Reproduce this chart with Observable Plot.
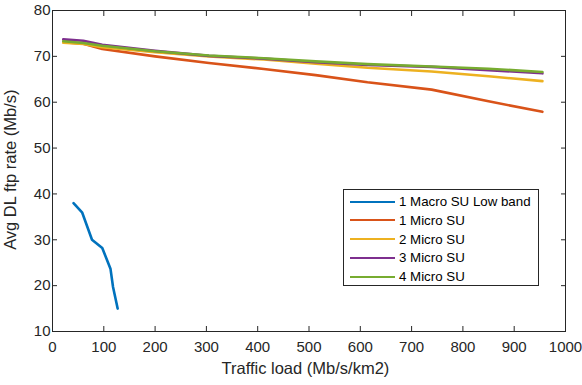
<!DOCTYPE html>
<html>
<head>
<meta charset="utf-8">
<script src="https://cdn.jsdelivr.net/npm/d3@7"></script>
<script src="https://cdn.jsdelivr.net/npm/@observablehq/plot@0.6"></script>
<style>
  body { margin: 0; background: #fff; }
  #wrap { position: relative; width: 582px; height: 385px; font-family: "Liberation Sans", Arial, sans-serif; }
  #legend { position: absolute; left: 343px; top: 189px; width: 196px; height: 97px; border: 1px solid #262626; background: #fff; box-sizing: border-box; font-size: 13.3px; color: #000; }
  .row { position: absolute; left: 0; height: 19px; display: flex; align-items: center; }
  .row svg { margin-left: 6px; margin-right: 4px; }
</style>
</head>
<body>
<div id="wrap"></div>
<script>
const seriesNames = ["1 Macro SU Low band", "1 Micro SU", "2 Micro SU", "3 Micro SU", "4 Micro SU"];
const seriesColors = ["#0072BD", "#D95319", "#EDB120", "#7E2F8E", "#77AC30"];

const macroX = [41, 58, 77, 97, 113, 118, 127];
const macroY = [38.0, 35.9, 30.0, 28.2, 23.7, 19.7, 15.0];

const microX = [21, 60, 97, 200, 305, 412, 513, 614, 739, 850, 955];
const micro1 = [73.1, 72.75, 71.6, 70.0, 68.55, 67.25, 65.9, 64.35, 62.75, 60.2, 57.9];
const micro2 = [73.0, 72.7, 72.0, 70.9, 70.0, 69.3, 68.4, 67.5, 66.7, 65.65, 64.6];
const micro3 = [73.7, 73.4, 72.5, 71.2, 70.1, 69.5, 68.7, 68.1, 67.7, 67.0, 66.3];
const micro4 = [73.3, 72.9, 72.3, 71.1, 70.2, 69.6, 68.9, 68.3, 67.8, 67.3, 66.6];

const xTicks = [0, 100, 200, 300, 400, 500, 600, 700, 800, 900, 1000];
const yTicks = [10, 20, 30, 40, 50, 60, 70, 80];

const data = [];
macroX.forEach((x, i) => data.push({series: seriesNames[0], x, y: macroY[i]}));
[micro1, micro2, micro3, micro4].forEach((arr, k) =>
  microX.forEach((x, i) => data.push({series: seriesNames[k + 1], x, y: arr[i]})));

const ink = "#262626";
const chart = Plot.plot({
  width: 582,
  height: 385,
  marginLeft: 52,
  marginRight: 17,
  marginTop: 10,
  marginBottom: 54,
  style: {fontFamily: "Liberation Sans, Arial, sans-serif", fontSize: "15px", color: ink, background: "#fff"},
  x: {domain: [0, 1000]},
  y: {domain: [10, 80]},
  color: {domain: seriesNames, range: seriesColors},
  marks: [
    Plot.frame({stroke: ink, strokeWidth: 1}),
    Plot.axisX(xTicks, {anchor: "bottom", tickSize: -5, tickPadding: 15, tickFormat: d => String(d), stroke: ink, color: ink, fontSize: 15, label: null}),
    Plot.axisX(xTicks, {anchor: "top", tickSize: -5, text: null, stroke: ink, label: null}),
    Plot.axisY(yTicks, {anchor: "left", tickSize: -5, tickPadding: 7, tickFormat: d => String(d), stroke: ink, color: ink, fontSize: 15, label: null}),
    Plot.axisY(yTicks, {anchor: "right", tickSize: -5, text: null, stroke: ink, label: null}),
    Plot.line(data, {x: "x", y: "y", z: "series", stroke: "series", strokeWidth: 2.6, strokeLinejoin: "round"}),
    Plot.text(["Traffic load (Mb/s/km2)"], {x: 493, frameAnchor: "bottom", dy: 42, text: d => d, fontSize: 16.5, fill: ink}),
    Plot.text(["Avg DL ftp rate (Mb/s)"], {y: 45.3, frameAnchor: "left", textAnchor: "middle", dx: -42, rotate: -90, text: d => d, fontSize: 16.5, fill: ink})
  ]
});
const wrap = document.getElementById("wrap");
wrap.appendChild(chart);

const legend = document.createElement("div");
legend.id = "legend";
seriesNames.forEach((name, i) => {
  const row = document.createElement("div");
  row.className = "row";
  row.style.top = (2 + i * 18.8) + "px";
  row.innerHTML = `<svg width="45" height="4"><line x1="0" y1="2" x2="45" y2="2" stroke="${seriesColors[i]}" stroke-width="2.2"/></svg><span>${name}</span>`;
  legend.appendChild(row);
});
wrap.appendChild(legend);
</script>
</body>
</html>
